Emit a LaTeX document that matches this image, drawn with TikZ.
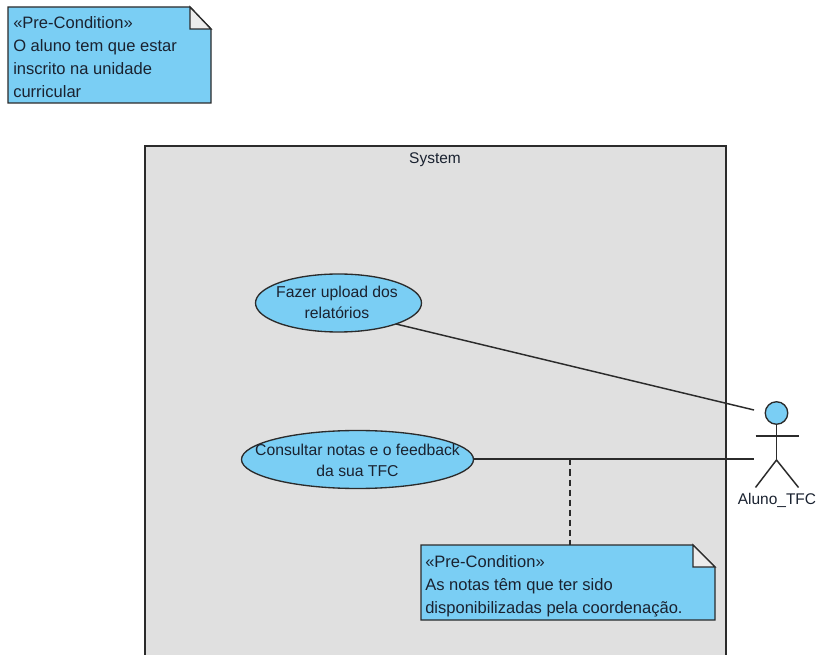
\documentclass[tikz,border=0pt]{standalone}
\usepackage{fontspec}
\setmainfont{Liberation Sans}
\usetikzlibrary{shapes.geometric}
\definecolor{fillblue}{HTML}{7ACEF4}
\definecolor{sysgray}{HTML}{E0E0E0}
\definecolor{edge}{HTML}{2B2B2B}
\definecolor{txt}{HTML}{1A2230}
\tikzset{
  x=0.75pt,y=-0.75pt,
  line/.style={draw=edge,line width=1.1pt},
  usecase/.style={ellipse,draw=edge,fill=fillblue,line width=1pt,inner sep=0pt},
  uctext/.style={align=center,inner sep=0pt,text=txt,font=\fontsize{11.8}{15.6}\selectfont},
  notetext/.style={anchor=north west,inner sep=0pt,align=left,text=txt,font=\fontsize{12.4}{17.25}\selectfont},
  notebody/.style={draw=edge,fill=fillblue,line width=1pt,line join=miter},
  notefold/.style={draw=edge,fill=sysgray!60!white,line width=1pt},
  actorlabel/.style={text=txt,inner sep=0pt,font=\fontsize{11.6}{14}\selectfont},
}
\begin{document}
\begin{tikzpicture}
\useasboundingbox (0,0) rectangle (817,655);
\fill[white] (0,0) rectangle (817,655);
% system boundary (runs off the bottom)
\fill[sysgray] (145,146) rectangle (726,655);
\draw[draw=edge,line width=1pt] (145,655) -- (145,146) -- (726,146) -- (726,655);
\node[text=txt,inner sep=0pt,font=\fontsize{11.6}{14}\selectfont] (systitle) at (435,159.5) {System};
% note 1
\draw[notebody] (8,7) -- (190,7) -- (211,29) -- (211,103) -- (8,103) -- cycle;
\draw[notefold] (190,7) -- (190,29) -- (211,29) -- cycle;
\node[notetext] (note1) at (13,16.5) {«Pre-Condition»\\O aluno tem que estar\\inscrito na unidade\\curricular};
% use cases
\node[usecase,minimum width=124.5pt,minimum height=43.5pt] (uc1) at (338.5,303) {};
\node[uctext] (uc1text) at (337,302.5) {Fazer upload dos\\relatórios};
\node[usecase,minimum width=174pt,minimum height=43.5pt] (uc2) at (357.5,459.5) {};
\node[uctext] (uc2text) at (357.5,460) {Consultar notas e o feedback\\da sua TFC};
% actor
\node[circle,draw=edge,fill=fillblue,line width=1pt,minimum size=16.9pt,inner sep=0pt] (head) at (776.5,413) {};
\coordinate (hip) at (776.5,460);
\coordinate (armL) at (755.5,436);
\coordinate (armR) at (798.5,436);
\coordinate (footL) at (755.5,487.5);
\coordinate (footR) at (798.5,487.5);
\draw[line] (head.south) -- (hip);
\draw[line] (armL) -- (armR);
\draw[line] (footL) -- (hip) -- (footR);
\node[actorlabel] (actorname) at (777,500.5) {Aluno\_TFC};
% connectors
\coordinate (a1) at (754,410);
\coordinate (a2) at (754,459.5);
\coordinate (s1) at (396,324);
\draw[line] (s1) -- (a1);
\draw[draw=edge,line width=1.5pt] (uc2.east) -- (a2);
% note 2
\draw[notebody] (421,545) -- (693,545) -- (715,567) -- (715,620) -- (421,620) -- cycle;
\draw[notefold] (693,545) -- (693,567) -- (715,567) -- cycle;
\node[notetext] (note2) at (425,555) {«Pre-Condition»\\As notas têm que ter sido\\disponibilizadas pela coordenação.};
\coordinate (n2top) at (569.5,545);
\coordinate (n2link) at (569.5,459.5);
\draw[draw=edge,line width=1.5pt,dash pattern=on 4.5pt off 3pt] (n2link) -- (n2top);
\end{tikzpicture}
\end{document}
